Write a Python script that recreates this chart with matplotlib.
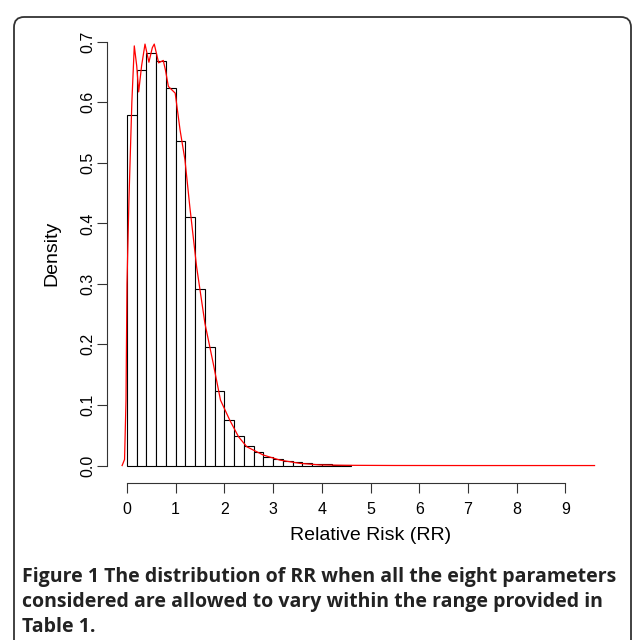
import matplotlib
matplotlib.use('Agg')
import matplotlib.pyplot as plt
from matplotlib.patches import FancyBboxPatch

# histogram of RR (density scale), bins of width 0.2 starting at 0
bin_width = 0.2
bar_density = [0.579, 0.654, 0.681, 0.668, 0.623, 0.536, 0.410, 0.292,
               0.195, 0.123, 0.076, 0.048, 0.032, 0.022, 0.0135, 0.010,
               0.0074, 0.0058, 0.004, 0.003, 0.002, 0.0015, 0.001]
bar_left = [i * bin_width for i in range(len(bar_density))]

# kernel density curve
curve_x = [-0.10, -0.05, -0.02, 0.0, 0.04, 0.10, 0.15, 0.20, 0.24, 0.30,
           0.37, 0.45, 0.52, 0.56, 0.65, 0.745, 0.79, 0.85, 0.99, 1.09,
           1.19, 1.29, 1.43, 1.60, 1.77, 1.92, 2.11, 2.29, 2.46, 2.80,
           3.14, 3.55, 3.96, 4.5, 5.5, 7.0, 9.6]
curve_y = [0.0, 0.01, 0.108, 0.30, 0.438, 0.60, 0.693, 0.66, 0.617, 0.66,
           0.696, 0.666, 0.69, 0.696, 0.665, 0.669, 0.653, 0.626, 0.615, 0.554,
           0.505, 0.4275, 0.328, 0.235, 0.169, 0.108, 0.075, 0.0476, 0.031, 0.0173,
           0.009, 0.0036, 0.001, 0.0004, 0.0001, 0.0, 0.0]

x_ticks = [0, 1, 2, 3, 4, 5, 6, 7, 8, 9]
y_ticks = [0.0, 0.1, 0.2, 0.3, 0.4, 0.5, 0.6, 0.7]
y_tick_labels = ['0.0', '0.1', '0.2', '0.3', '0.4', '0.5', '0.6', '0.7']

caption_lines = ['Figure 1 The distribution of RR when all the eight parameters',
                 'considered are allowed to vary within the range provided in',
                 'Table 1.']

W, H = 633, 640
fig = plt.figure(figsize=(W / 100, H / 100), dpi=100)

# plot region in pixels (R style: 4% padding around 0..10 and 0..0.7)
left, right, top, bottom = 107.5, 633.5, 24.7, 482.5
ax = fig.add_axes([left / W, 1 - bottom / H, (right - left) / W, (bottom - top) / H])

ax.bar(bar_left, bar_density, width=bin_width, align='edge',
       color='white', edgecolor='black', linewidth=0.8)
ax.plot(curve_x, curve_y, color='red', linewidth=0.9)

ax.set_xlim(-0.4, 10.4)
ax.set_ylim(-0.028, 0.728)

for side in ['top', 'right']:
    ax.spines[side].set_visible(False)
ax.spines['left'].set_bounds(0, 0.7)
ax.spines['bottom'].set_bounds(0, 9)
for side in ['left', 'bottom']:
    ax.spines[side].set_linewidth(0.8)
    ax.spines[side].set_color('#333333')

font = 'Liberation Sans'
ax.set_xticks(x_ticks)
ax.set_xticklabels([str(t) for t in x_ticks], fontfamily=font, fontsize=11.5)
ax.set_yticks(y_ticks)
ax.set_yticklabels(y_tick_labels, fontfamily=font, fontsize=11.5,
                   rotation=90, va='center')
ax.tick_params(axis='x', length=7, width=0.8, pad=7, color='#333333')
ax.tick_params(axis='y', length=7, width=0.8, pad=2, color='#333333')

ax.set_xlabel('Relative Risk (RR)', fontfamily=font, fontsize=14)
ax.set_ylabel('Density', fontfamily=font, fontsize=14)
ax.xaxis.set_label_coords(0.5, (bottom - 527) / (bottom - top))
ax.yaxis.set_label_coords((60 - left) / (right - left), 0.5)

# caption below the chart
for i, line in enumerate(caption_lines):
    fig.text(22 / W, 1 - (577 + 25 * i) / H, line, fontfamily='Open Sans',
             fontweight='bold', fontsize=14, va='center', ha='left',
             color='#222222')

# rounded frame around the figure, open at the bottom
frame = FancyBboxPatch((14 / W, -0.1), (631 - 14) / W, 1.1 - 17 / H,
                       boxstyle='round,pad=0,rounding_size=0.016',
                       transform=fig.transFigure, fill=False,
                       edgecolor='#333333', linewidth=1.3, clip_on=False)
fig.patches.append(frame)

fig.savefig('out.png', dpi=100)
